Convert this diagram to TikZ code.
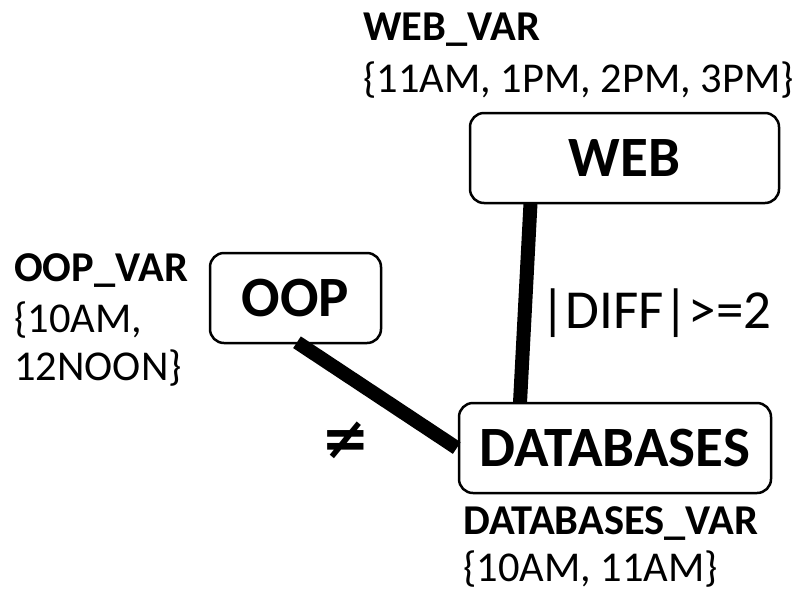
\documentclass[tikz,border=0pt]{standalone}
\usepackage{fontspec}
\setmainfont{Carlito}
\newfontfamily\symfont{DejaVu Sans}
\begin{document}
\begin{tikzpicture}[x=1pt,y=-1pt,
  box/.style={draw,line width=2.5pt,rounded corners=14pt,inner sep=0pt,font=\fontsize{57}{66}\selectfont\bfseries},
  conn/.style={line width=14pt},
  lbl/.style={anchor=base west,inner sep=0pt,font=\fontsize{42.5}{50}\selectfont\bfseries},
  val/.style={anchor=base west,inner sep=0pt,font=\fontsize{42.5}{50}\selectfont}]
\useasboundingbox (0,0) rectangle (794,592);
\node[box,minimum width=309pt,minimum height=90pt] (web) at (624.5,158) {WEB};
\node[box,minimum width=171pt,minimum height=90pt] (oop) at (295.5,298) {OOP};
\node[box,minimum width=312pt,minimum height=90pt] (db) at (615,448) {DATABASES};
\draw[conn] ([xshift=-94pt,yshift=1pt]web.south) -- ([xshift=-95pt,yshift=-1pt]db.north);
\draw[conn] ([xshift=1.5pt,yshift=2pt]oop.south) -- ([xshift=-1pt]db.west);
\node[val,font=\fontsize{55}{64}\selectfont] (diff) at (540,328) {|DIFF|>=2};
\node[inner sep=0pt,font=\fontsize{58}{64}\selectfont\symfont\bfseries] (neq) at (346,440) {≠};
\node[lbl] (webvar) at (363,40) {WEB\_VAR};
\node[val] (webval) at (363,92) {\{11AM, 1PM, 2PM, 3PM\}};
\node[lbl] (oopvar) at (14,281) {OOP\_VAR};
\node[val] (oopval1) at (14,332) {\{10AM,};
\node[val] (oopval2) at (14,380) {12NOON\}};
\node[lbl] (dbvar) at (463,534) {DATABASES\_VAR};
\node[val] (dbval) at (463,581) {\{10AM, 11AM\}};
\end{tikzpicture}
\end{document}
